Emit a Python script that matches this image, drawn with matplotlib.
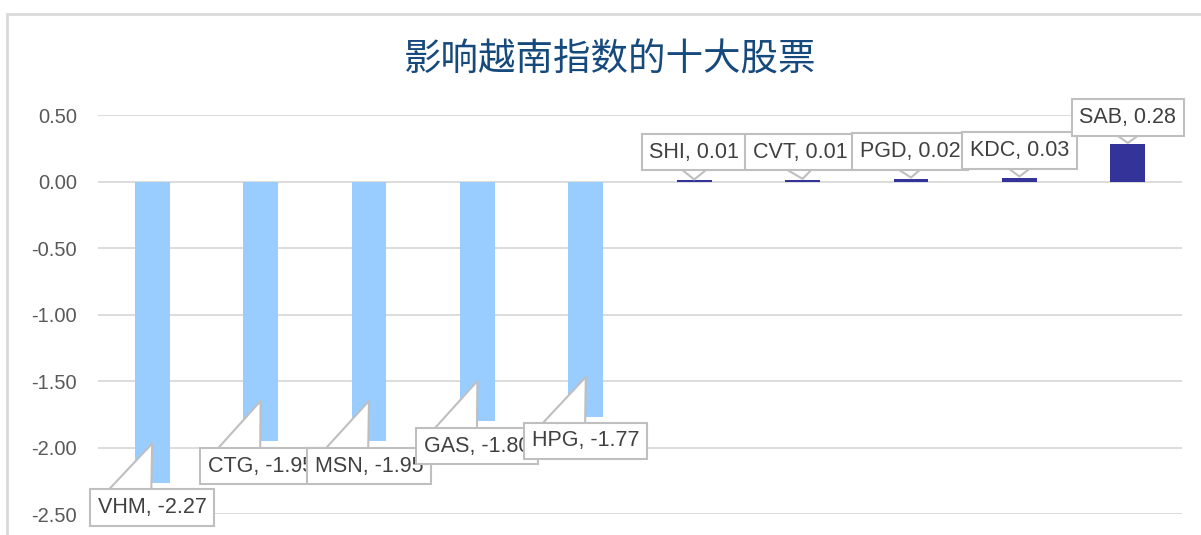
import matplotlib
matplotlib.use("Agg")
import matplotlib.pyplot as plt
from matplotlib.patches import Rectangle

plt.rcParams['font.family'] = ['Liberation Sans', 'DejaVu Sans']

# data
stocks = ["VHM", "CTG", "MSN", "GAS", "HPG", "SHI", "CVT", "PGD", "KDC", "SAB"]
impact = [-2.27, -1.95, -1.95, -1.80, -1.77, 0.01, 0.01, 0.02, 0.03, 0.28]
title = "影响越南指数的十大股票"
yticks = [0.5, 0.0, -0.5, -1.0, -1.5, -2.0, -2.5]

# callout layout: box centre (x, y) and pointer tip y, in data units
box_xy = [(0.0, -2.45), (1.0, -2.14), (2.0, -2.14), (3.0, -1.99), (4.0, -1.95),
          (5.0, 0.22), (5.98, 0.22), (6.99, 0.225), (8.0, 0.233), (9.0, 0.48)]
tip_y = [-1.97, -1.65, -1.65, -1.50, -1.47, 0.015, 0.02, 0.03, 0.038, 0.29]

neg_color = "#99CCFF"
pos_color = "#333399"

fig = plt.figure(figsize=(12.01, 5.35), dpi=100)
ax = fig.add_axes([98 / 1201, 1 - 514 / 535, (1182 - 98) / 1201, (514 - 115) / 535])

colors = [neg_color if v < 0 else pos_color for v in impact]
x = list(range(len(stocks)))
ax.bar(x, impact, width=0.32, color=colors, zorder=2)

ax.set_xlim(-0.5, len(stocks) - 0.5)
ax.set_ylim(-2.5, 0.5)
ax.set_yticks(yticks)
ax.set_yticklabels([f"{t:.2f}" for t in yticks], fontsize=14.5, color="#595959")
ax.set_xticks([])
ax.tick_params(axis="y", length=0, pad=15)
ax.yaxis.grid(True, color="#D9D9D9", linewidth=1.3, zorder=0)
ax.set_axisbelow(True)
for s in ax.spines.values():
    s.set_visible(False)

for i, (name, v) in enumerate(zip(stocks, impact)):
    bx, by = box_xy[i]
    if v < 0:
        relpos = (0.3, 1.0)
        tw = 1.6
    else:
        relpos = (0.5, 0.0)
        tw = 1.5
    ax.annotate(f"{name}, {v:.2f}", xy=(i, tip_y[i]), xytext=(bx, by),
                ha="center", va="center", fontsize=15.5, color="#404040",
                annotation_clip=False, zorder=5,
                bbox=dict(boxstyle="square,pad=0.36", fc="white",
                          ec="#BFBFBF", lw=1.5),
                arrowprops=dict(arrowstyle=f"wedge,tail_width={tw}",
                                fc="white", ec="#BFBFBF", lw=1.5,
                                relpos=relpos, patchA=None,
                                shrinkA=0, shrinkB=0, mutation_scale=20))

fig.text(610 / 1201, 1 - 60 / 535, title, ha="center", va="center",
         fontsize=27, color="#174A7C",
         family=['Noto Sans CJK SC', 'DejaVu Sans'])

# chart area border (cut off at right and bottom in the original)
fig.patches.append(Rectangle((7 / 1201, -0.1), 1.2, 1 - 14 / 535 + 0.1,
                             transform=fig.transFigure, fill=False,
                             ec="#D9D9D9", lw=2))

fig.savefig("out.png", dpi=100)
